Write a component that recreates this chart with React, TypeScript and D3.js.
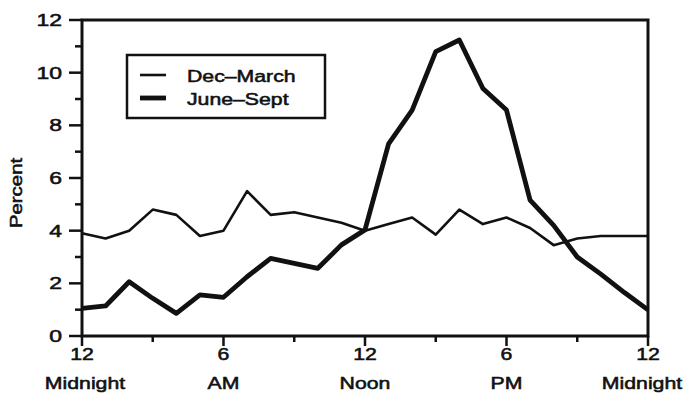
import React from "react";
import * as d3 from "d3";

const hours = [0,1,2,3,4,5,6,7,8,9,10,11,12,13,14,15,16,17,18,19,20,21,22,23,24];
const decMarch = [3.9,3.7,4.0,4.8,4.6,3.8,4.0,5.5,4.6,4.7,4.5,4.3,4.0,4.25,4.5,3.85,4.8,4.25,4.5,4.1,3.45,3.7,3.8,3.8,3.8];
const juneSept = [1.05,1.14,2.06,1.43,0.86,1.56,1.47,2.25,2.95,2.76,2.57,3.46,4.03,7.3,8.58,10.8,11.24,9.4,8.58,5.16,4.2,3.0,2.35,1.65,0.99];
const yTicks = [0,2,4,6,8,10,12];
const yMinor = [1,3,5,7,9,11];
const xMajor = [0,6,12,18,24];
const xMinor = [3,9,15,21];
const xLabels1 = ["12","6","12","6","12"];
const xLabels2 = ["Midnight","AM","Noon","PM","Midnight"];
const seriesNames = ["Dec\u2013March","June\u2013Sept"];

const W = 687, H = 409;
const M = { left: 82, right: 648, top: 20, bottom: 336 };
const FONT = "'Liberation Sans', Arial, Helvetica, sans-serif";
const SX = 1.25;

function T({ x, y, children, anchor = "middle", size = 17, sx = SX, rotate = 0 }: any) {
  return (
    <g transform={`translate(${x},${y}) rotate(${rotate}) scale(${sx},1)`}>
      <text textAnchor={anchor} fontFamily={FONT} fontSize={size} fill="#111" stroke="#111" strokeWidth={0.55}>
        {children}
      </text>
    </g>
  );
}

export default function App() {
  const x = d3.scaleLinear().domain([0, 24]).range([M.left, M.right]);
  const y = d3.scaleLinear().domain([0, 12]).range([M.bottom, M.top]);
  const line = d3.line<number>().x((_, i) => x(hours[i])).y((d) => y(d));

  return (
    <svg width={W} height={H} style={{ position: "absolute", left: 0, top: 0, background: "#fff" }}>
      <rect x={0} y={0} width={W} height={H} fill="#fff" />
      {/* series */}
      <path d={line(decMarch) || ""} fill="none" stroke="#111" strokeWidth={2.6} strokeLinejoin="round" />
      <path d={line(juneSept) || ""} fill="none" stroke="#111" strokeWidth={4.8} strokeLinejoin="round" />
      {/* frame */}
      <rect x={M.left} y={M.top} width={M.right - M.left} height={M.bottom - M.top} fill="none" stroke="#111" strokeWidth={3} />
      {/* y ticks */}
      {yTicks.map((t) => (
        <g key={"y" + t}>
          <line x1={M.left - 13} x2={M.left} y1={y(t)} y2={y(t)} stroke="#111" strokeWidth={2.5} />
          <T x={62} y={y(t) + 6} anchor="end" sx={1.35}>{String(t)}</T>
        </g>
      ))}
      {yMinor.map((t) => (
        <line key={"ym" + t} x1={M.left - 7} x2={M.left} y1={y(t)} y2={y(t)} stroke="#111" strokeWidth={2.5} />
      ))}
      {/* x ticks */}
      {xMajor.map((t, i) => (
        <g key={"x" + t}>
          <line x1={x(t)} x2={x(t)} y1={M.bottom} y2={M.bottom + 10} stroke="#111" strokeWidth={2.5} />
          <T x={x(t)} y={360}>{xLabels1[i]}</T>
          <T x={i === 0 ? x(t) + 3 : i === 4 ? x(t) - 6 : x(t)} y={389}>{xLabels2[i]}</T>
        </g>
      ))}
      {xMinor.map((t) => (
        <line key={"xm" + t} x1={x(t)} x2={x(t)} y1={M.bottom} y2={M.bottom + 6} stroke="#111" strokeWidth={2.5} />
      ))}
      {/* y axis title */}
      <T x={22} y={193} rotate={-90} sx={1.2}>Percent</T>
      {/* legend */}
      <rect x={127} y={55} width={198} height={63} fill="#fff" stroke="#111" strokeWidth={2.5} />
      <line x1={140} x2={166} y1={75} y2={75} stroke="#111" strokeWidth={2.6} />
      <line x1={140} x2={166} y1={98} y2={98} stroke="#111" strokeWidth={4.8} />
      <T x={187} y={82} anchor="start">{seriesNames[0]}</T>
      <T x={187} y={105} anchor="start">{seriesNames[1]}</T>
    </svg>
  );
}
